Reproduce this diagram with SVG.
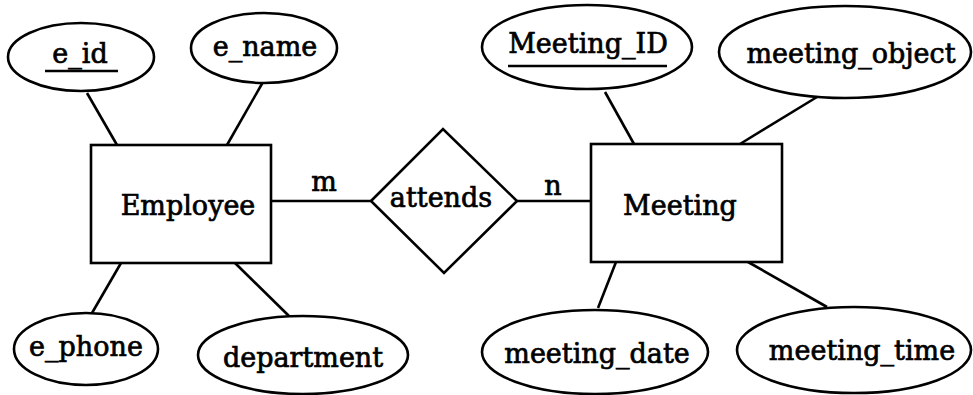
<svg xmlns="http://www.w3.org/2000/svg" width="973" height="395" viewBox="0 0 973 395">
<style>
.s{fill:#fff;stroke:#000;stroke-width:2.6}
.c line{stroke:#000;stroke-width:2.6}
text{font-family:"DejaVu Serif","Liberation Serif",serif;font-size:27px;fill:#000;stroke:#000;stroke-width:0.7;text-anchor:middle}
.u{stroke:#000;stroke-width:2.4}
</style>
<rect width="973" height="395" fill="#fff"/>
<g id="connectors" class="c">
<line x1="87" y1="93" x2="117" y2="145"/>
<line x1="263" y1="82" x2="227" y2="145"/>
<line x1="121" y1="263" x2="92" y2="313"/>
<line x1="235" y1="263" x2="290" y2="317"/>
<line x1="271" y1="201" x2="371" y2="201"/>
<line x1="517" y1="201" x2="591" y2="201"/>
<line x1="605" y1="92" x2="634" y2="144"/>
<line x1="817" y1="97" x2="740" y2="144"/>
<line x1="616" y1="262" x2="598" y2="308"/>
<line x1="748" y1="262" x2="827" y2="307"/>
</g>
<g id="e_id"><ellipse class="s" cx="81" cy="57" rx="73" ry="34"/><text x="80" y="63">e_id</text><line class="u" x1="45" y1="71" x2="118" y2="71"/></g>
<g id="e_name"><ellipse class="s" cx="264" cy="48" rx="73" ry="35"/><text x="265" y="56">e_name</text></g>
<g id="Employee"><rect class="s" x="91" y="145" width="180" height="118"/><text x="188" y="215">Employee</text></g>
<g id="e_phone"><ellipse class="s" cx="86" cy="349" rx="72" ry="36"/><text x="86" y="356">e_phone</text></g>
<g id="department"><ellipse class="s" cx="303" cy="355" rx="105" ry="39"/><text x="303" y="367">department</text></g>
<g id="attends"><polygon class="s" points="371,201 443,129 517,201 444,273"/><text x="441" y="207">attends</text></g>
<g id="label_m"><text x="324" y="191">m</text></g>
<g id="label_n"><text x="553" y="195">n</text></g>
<g id="Meeting"><rect class="s" x="591" y="144" width="191" height="118"/><text x="680" y="215">Meeting</text></g>
<g id="Meeting_ID"><ellipse class="s" cx="587" cy="47" rx="105" ry="42"/><text x="588" y="53">Meeting_ID</text><line class="u" x1="508" y1="66" x2="667" y2="66"/></g>
<g id="meeting_object"><ellipse class="s" cx="845" cy="52" rx="126" ry="46"/><text x="851" y="63">meeting_object</text></g>
<g id="meeting_date"><ellipse class="s" cx="595" cy="352" rx="113" ry="42"/><text x="597" y="363">meeting_date</text></g>
<g id="meeting_time"><ellipse class="s" cx="854" cy="350" rx="117" ry="43"/><text x="862" y="360">meeting_time</text></g>
</svg>
